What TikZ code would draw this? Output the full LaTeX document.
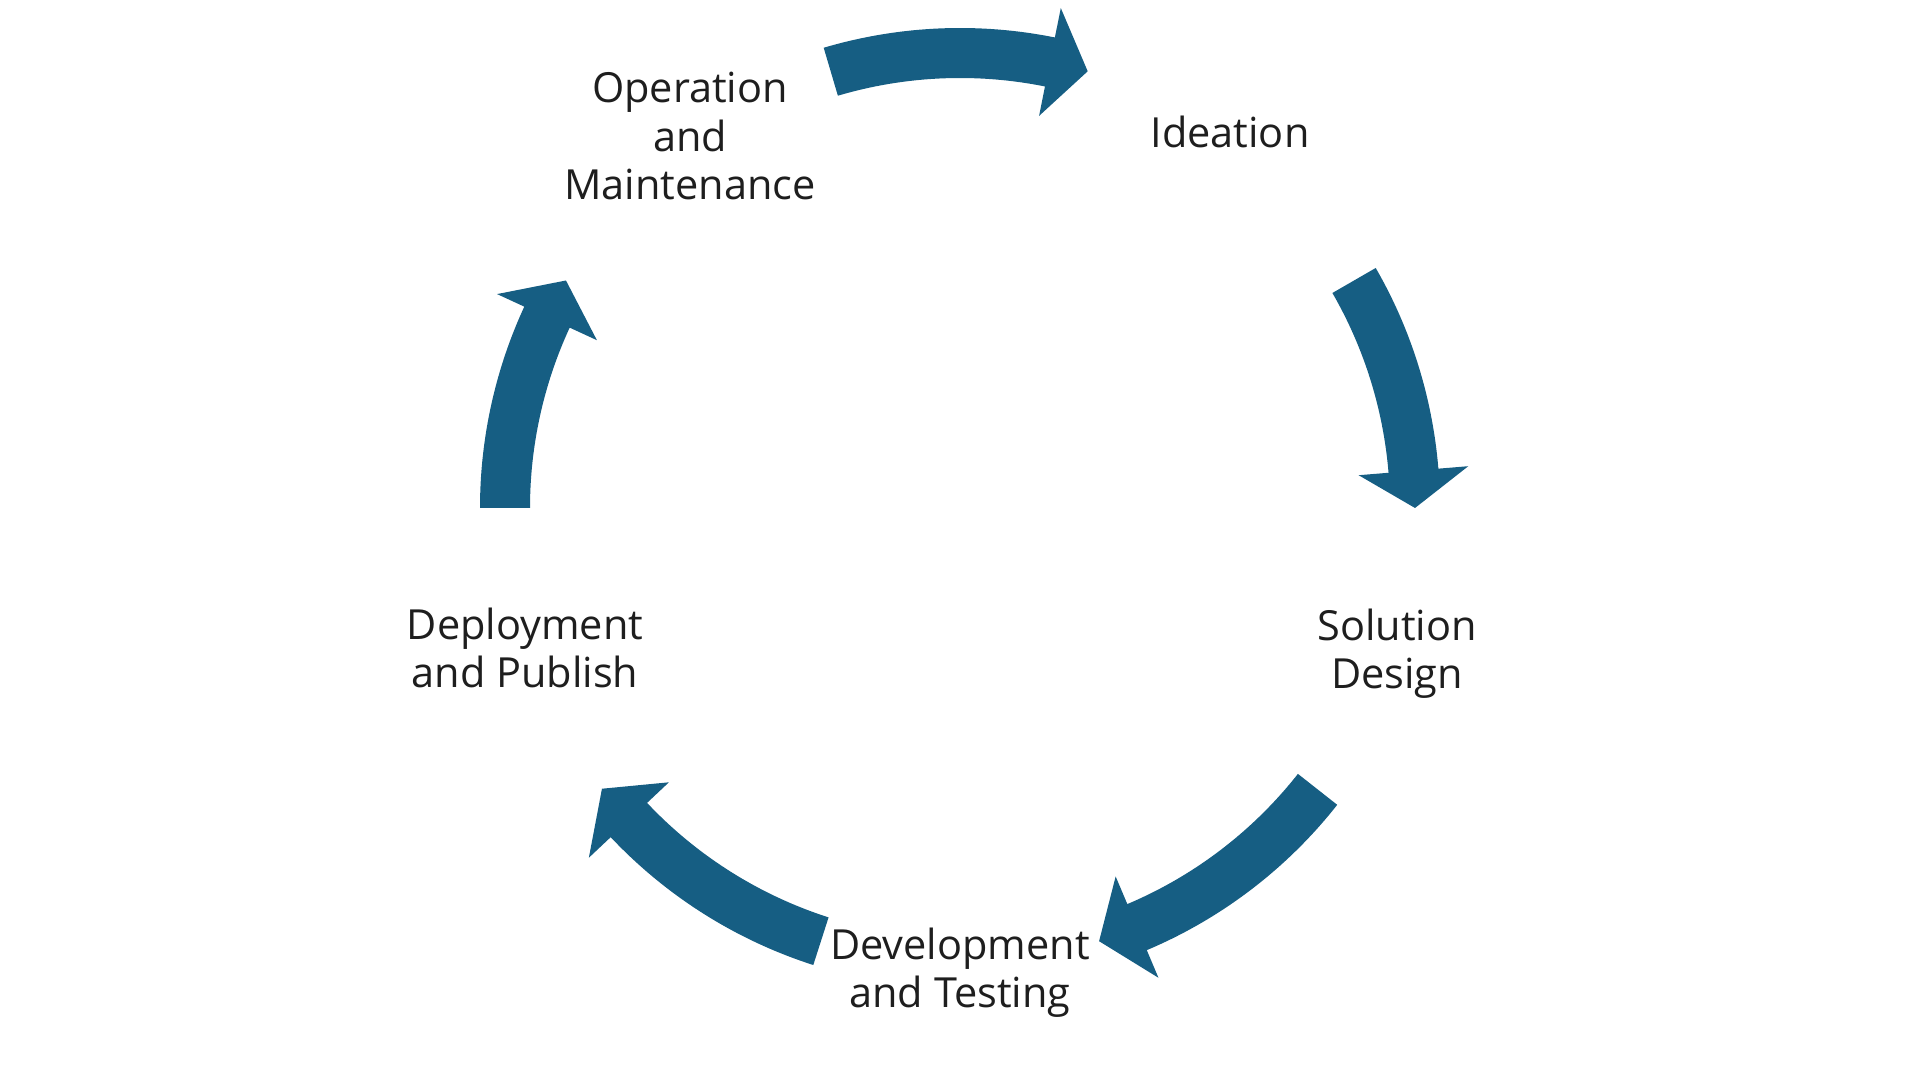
\documentclass[tikz,border=0pt]{standalone}
\usepackage{fontspec}
\setmainfont{Open Sans}
\usepackage{tikz}
\usepackage{xcolor}
\usetikzlibrary{calc}
\definecolor{cycleblue}{RGB}{22, 94, 131}
\definecolor{cycletext}{RGB}{30, 30, 30}
\tikzset{
    stagelabel/.style={align=center, anchor=base, text=cycletext, font=\fontsize{11.8}{13.9}\selectfont, inner sep=0pt},
    cyclearrow/.style={fill=cycleblue, draw=none}
}

\begin{document}
\begin{tikzpicture}
    \useasboundingbox (0,0) rectangle (19.2,10.8);
    \coordinate (hub) at (9.6,5.72);
    % arrows: tail / neck / tip angles
    \foreach \tail/\neck/\tip in {106.5/78.6/73.7, 30/4.7/0, -38.2/-67.1/-72.2, -107.8/-136.7/-141.9, 180/155.2/150}
        \fill[cyclearrow] ($(hub)+(\tail:4.8)$) arc[start angle=\tail, end angle=\neck, radius=4.8cm]
            -- ($(hub)+(\neck:5.1)$) -- ($(hub)+(\tip:4.55)$) -- ($(hub)+(\neck:4.0)$)
            -- ($(hub)+(\neck:4.3)$) arc[start angle=\neck, end angle=\tail, radius=4.3cm] -- cycle;
    % labels (base = last line)
    \node[stagelabel] (ideation) at (12.30,9.32) {Ideation};
    \node[stagelabel] (design) at (13.97,3.91) {Solution\\Design};
    \node[stagelabel] (develop) at (9.60,0.72) {Development\\and Testing};
    \node[stagelabel] (deploy) at (5.25,3.92) {Deployment\\and Publish};
    \node[stagelabel] (operate) at (6.90,8.80) {Operation\\and\\Maintenance};
\end{tikzpicture}
\end{document}
